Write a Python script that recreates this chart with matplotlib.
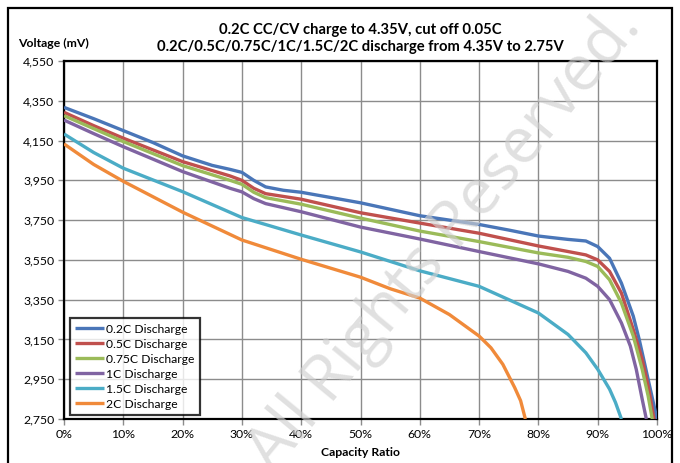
import matplotlib
matplotlib.use('Agg')
import matplotlib.pyplot as plt
import matplotlib.ticker as mticker
from matplotlib.patches import Rectangle

plt.rcParams['font.family'] = ['Lato', 'DejaVu Sans']

# capacity ratio (%) and voltage (mV)
cap_02 = [0, 5, 10, 15, 20, 25, 28, 30, 32, 34, 37, 40, 50, 60, 70, 75, 80, 82, 85, 88, 90, 92, 94, 96, 97, 98, 99, 100]
v_02 = [4317, 4260, 4200, 4140, 4073, 4025, 4005, 3990, 3950, 3917, 3900, 3890, 3837, 3772, 3728, 3700, 3670, 3663, 3653, 3645, 3617, 3558, 3433, 3267, 3150, 3017, 2883, 2750]

cap_05 = [0, 5, 10, 20, 28, 30, 32, 34, 40, 50, 60, 70, 80, 85, 88, 90, 92, 94, 96, 97.5, 98.5, 99.5]
v_05 = [4292, 4225, 4162, 4044, 3972, 3950, 3910, 3883, 3855, 3787, 3735, 3684, 3620, 3592, 3575, 3550, 3492, 3383, 3200, 3050, 2917, 2750]

cap_075 = [0, 5, 10, 20, 28, 30, 32, 34, 40, 50, 60, 70, 80, 85, 88, 90, 92, 94, 96, 97.5, 98.5, 99.2]
v_075 = [4275, 4210, 4145, 4024, 3950, 3930, 3890, 3863, 3830, 3760, 3695, 3642, 3585, 3563, 3542, 3517, 3450, 3333, 3167, 3000, 2867, 2750]

cap_1 = [0, 5, 10, 20, 28, 30, 32, 34, 40, 50, 60, 70, 80, 85, 88, 90, 92, 94, 95.5, 96.5, 97.5, 98.2]
v_1 = [4253, 4185, 4119, 3994, 3910, 3892, 3858, 3833, 3792, 3715, 3655, 3592, 3530, 3492, 3458, 3417, 3350, 3233, 3117, 3000, 2850, 2750]

cap_15 = [0, 5, 10, 20, 30, 40, 50, 60, 70, 75, 80, 85, 88, 90, 92, 93, 94]
v_15 = [4183, 4090, 4011, 3893, 3763, 3675, 3590, 3495, 3417, 3350, 3283, 3175, 3083, 3000, 2900, 2833, 2750]

cap_2 = [0, 5, 10, 20, 30, 40, 50, 55, 60, 65, 70, 72, 74, 76, 77, 77.8]
v_2 = [4133, 4030, 3945, 3790, 3650, 3553, 3463, 3405, 3358, 3275, 3167, 3108, 3025, 2908, 2842, 2750]

Labels = ['0.2C Discharge', '0.5C Discharge', '0.75C Discharge', '1C Discharge', '1.5C Discharge', '2C Discharge']
Colors = ['#4a76b8', '#c0504d', '#9bbb59', '#8064a2', '#4bacc6', '#f08a3a']
Caps = [cap_02, cap_05, cap_075, cap_1, cap_15, cap_2]
Volts = [v_02, v_05, v_075, v_1, v_15, v_2]

fig = plt.figure(figsize=(6.8, 4.63), dpi=100)
ax = fig.add_axes([64/680, 1 - 419/463, 593/680, 358/463])

for cap, volt, col, lab in zip(Caps, Volts, Colors, Labels):
    ax.plot([c / 100 for c in cap], volt, color=col, lw=2.4, label=lab,
            solid_joinstyle='round', solid_capstyle='butt', zorder=3)

ax.set_xlim(0, 1)
ax.set_ylim(2750, 4550)
ax.set_xticks([i / 10 for i in range(11)])
ax.set_yticks(range(2750, 4551, 200))
ax.xaxis.set_major_formatter(mticker.PercentFormatter(1.0, decimals=0))
ax.yaxis.set_major_formatter(mticker.FuncFormatter(lambda v, p: f'{int(v):,}'))
ax.grid(True, color='#8c8c8c', lw=1.0, zorder=0)
ax.tick_params(axis='both', labelsize=8.8, color='#8c8c8c', length=4, width=1, pad=3)
for s in ax.spines.values():
    s.set_color('black')
    s.set_linewidth(1.6)

ax.set_xlabel('Capacity Ratio', fontsize=8.8, fontweight='bold', labelpad=5)

leg = ax.legend(loc='lower left', bbox_to_anchor=(0.010, 0.011), borderaxespad=0,
                fontsize=8.7, frameon=True, fancybox=False, handlelength=2.4,
                handletextpad=0.15, labelspacing=0.33, borderpad=0.45)
leg.get_frame().set_edgecolor('black')
leg.get_frame().set_linewidth(1.6)
leg.set_zorder(5)

fig.text(360/680, 1 - 30/463, '0.2C CC/CV charge to 4.35V, cut off 0.05C',
         ha='center', va='center', fontsize=10.6, fontweight='bold')
fig.text(360/680, 1 - 47/463, '0.2C/0.5C/0.75C/1C/1.5C/2C discharge from 4.35V to 2.75V',
         ha='center', va='center', fontsize=10.6, fontweight='bold')
fig.text(18/680, 1 - 43/463, 'Voltage (mV)', ha='left', va='center',
         fontsize=8.8, fontweight='bold')

# outer chart border
fig.patches.append(Rectangle((8/680, -0.05), 664/680, 1.05 - 8/463, transform=fig.transFigure,
                             fill=False, edgecolor='black', lw=1.6, zorder=0))

# watermark
fig.text(445/680, 1 - 240/463, 'All Rights Reserved.', rotation=50.5, ha='center', va='center',
         fontsize=46, color='#d0d0d0', alpha=0.65, zorder=10, family=['Open Sans', 'DejaVu Sans'])

fig.savefig('out.png', dpi=100)
